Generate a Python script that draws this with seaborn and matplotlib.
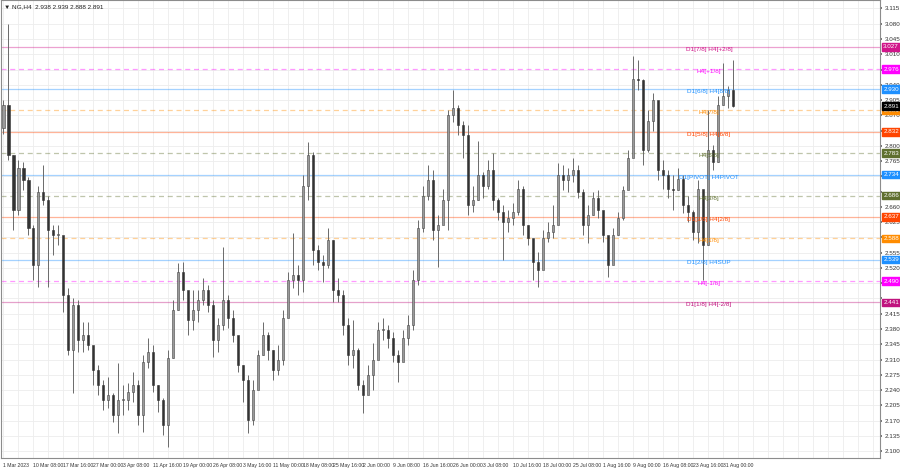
import numpy as np
import pandas as pd
import matplotlib
matplotlib.use("Agg")
import matplotlib.pyplot as plt
import matplotlib.transforms as mtransforms
import seaborn as sns

# ----------------------------------------------------------------------
# Data: NG H4 (one candle per ~5 px column)
# ----------------------------------------------------------------------
first_open = 2.840

high = [2.904, 3.080, 2.778, 2.767, 2.762, 2.728, 2.618, 2.709, 2.755, 2.686,
        2.618, 2.618, 2.583, 2.473, 2.451, 2.446, 2.396, 2.396, 2.332, 2.297,
        2.263, 2.270, 2.233, 2.302, 2.251, 2.256, 2.281, 2.263, 2.320, 2.359,
        2.343, 2.251, 2.221, 2.332, 2.446, 2.531, 2.533, 2.457, 2.469, 2.469,
        2.497, 2.480, 2.446, 2.405, 2.567, 2.457, 2.423, 2.354, 2.297, 2.274,
        2.263, 2.332, 2.396, 2.373, 2.332, 2.343, 2.423, 2.510, 2.599, 2.526,
        2.732, 2.808, 2.785, 2.572, 2.549, 2.611, 2.583, 2.497, 2.469, 2.405,
        2.400, 2.336, 2.263, 2.297, 2.348, 2.396, 2.405, 2.389, 2.373, 2.332,
        2.377, 2.412, 2.515, 2.629, 2.709, 2.755, 2.744, 2.641, 2.702, 2.881,
        2.927, 2.893, 2.858, 2.847, 2.709, 2.812, 2.739, 2.767, 2.783, 2.680,
        2.664, 2.652, 2.670, 2.721, 2.709, 2.618, 2.579, 2.556, 2.606, 2.625,
        2.664, 2.760, 2.755, 2.748, 2.773, 2.755, 2.702, 2.664, 2.693, 2.698,
        2.625, 2.583, 2.611, 2.648, 2.709, 2.790, 3.007, 2.996, 2.954, 2.881,
        2.920, 2.893, 2.767, 2.744, 2.732, 2.748, 2.732, 2.686, 2.652, 2.721,
        2.698, 2.881, 2.801, 2.915, 2.989, 2.938, 2.996]

low = [2.828, 2.767, 2.606, 2.641, 2.698, 2.595, 2.492, 2.476, 2.664, 2.476,
       2.549, 2.572, 2.418, 2.320, 2.233, 2.327, 2.327, 2.332, 2.251, 2.228,
       2.194, 2.199, 2.167, 2.141, 2.183, 2.194, 2.212, 2.160, 2.144, 2.290,
       2.235, 2.190, 2.137, 2.109, 2.313, 2.423, 2.446, 2.366, 2.377, 2.396,
       2.435, 2.418, 2.316, 2.327, 2.377, 2.382, 2.350, 2.281, 2.212, 2.141,
       2.160, 2.251, 2.320, 2.309, 2.263, 2.274, 2.297, 2.412, 2.473, 2.457,
       2.464, 2.675, 2.526, 2.515, 2.487, 2.519, 2.441, 2.441, 2.366, 2.297,
       2.290, 2.240, 2.187, 2.235, 2.240, 2.320, 2.354, 2.336, 2.304, 2.258,
       2.309, 2.343, 2.377, 2.480, 2.602, 2.675, 2.583, 2.522, 2.641, 2.606,
       2.854, 2.824, 2.771, 2.641, 2.648, 2.675, 2.680, 2.702, 2.652, 2.629,
       2.538, 2.602, 2.618, 2.641, 2.595, 2.572, 2.492, 2.476, 2.519, 2.579,
       2.588, 2.636, 2.698, 2.693, 2.716, 2.680, 2.595, 2.577, 2.641, 2.634,
       2.579, 2.499, 2.533, 2.595, 2.629, 2.721, 2.812, 2.927, 2.755, 2.785,
       2.835, 2.721, 2.702, 2.680, 2.652, 2.698, 2.645, 2.625, 2.583, 2.577,
       2.492, 2.572, 2.744, 2.762, 2.893, 2.886, 2.888]

close = [2.893, 2.778, 2.652, 2.748, 2.721, 2.611, 2.526, 2.693, 2.675, 2.606,
         2.595, 2.595, 2.457, 2.332, 2.435, 2.354, 2.366, 2.343, 2.286, 2.251,
         2.217, 2.228, 2.183, 2.217, 2.217, 2.235, 2.251, 2.183, 2.304, 2.327,
         2.251, 2.217, 2.160, 2.313, 2.423, 2.510, 2.469, 2.400, 2.423, 2.446,
         2.469, 2.435, 2.354, 2.389, 2.446, 2.405, 2.366, 2.297, 2.263, 2.171,
         2.240, 2.320, 2.366, 2.332, 2.286, 2.309, 2.405, 2.492, 2.503, 2.492,
         2.709, 2.778, 2.560, 2.533, 2.526, 2.583, 2.469, 2.457, 2.389, 2.320,
         2.332, 2.251, 2.228, 2.274, 2.309, 2.377, 2.377, 2.359, 2.320, 2.304,
         2.359, 2.389, 2.492, 2.611, 2.686, 2.721, 2.606, 2.618, 2.675, 2.870,
         2.886, 2.847, 2.824, 2.664, 2.675, 2.732, 2.709, 2.744, 2.675, 2.648,
         2.625, 2.634, 2.648, 2.702, 2.618, 2.588, 2.533, 2.515, 2.588, 2.602,
         2.618, 2.732, 2.721, 2.732, 2.744, 2.693, 2.618, 2.641, 2.680, 2.652,
         2.595, 2.526, 2.595, 2.634, 2.698, 2.771, 2.954, 2.950, 2.790, 2.858,
         2.904, 2.744, 2.732, 2.702, 2.698, 2.725, 2.664, 2.648, 2.602, 2.702,
         2.572, 2.790, 2.762, 2.893, 2.915, 2.927, 2.891]

date_labels = ["1 Mar 2023", "10 Mar 08:00", "17 Mar 16:00", "27 Mar 00:00",
               "3 Apr 08:00", "11 Apr 16:00", "19 Apr 00:00", "26 Apr 08:00",
               "3 May 16:00", "11 May 00:00", "18 May 08:00", "25 May 16:00",
               "2 Jun 00:00", "9 Jun 08:00", "16 Jun 16:00", "26 Jun 00:00",
               "3 Jul 08:00", "10 Jul 16:00", "18 Jul 00:00", "25 Jul 08:00",
               "1 Aug 16:00", "9 Aug 00:00", "16 Aug 08:00", "23 Aug 16:00",
               "31 Aug 00:00"]

# Murrey-math style levels drawn by the indicator
levels = [3.027, 2.976, 2.930, 2.881, 2.832, 2.783, 2.734,
          2.686, 2.637, 2.588, 2.539, 2.490, 2.441]
level_names = ["D1[7/8] H4[+2/8]", "H4[+1/8]", "D1[6/8] H4[8/8]", "H4[7/8]",
               "D1[5/8] H4[6/8]", "H4[5/8]", "D1[PIVOT] H4PIVOT", "H4[3/8]",
               "D1[3/8] H4[2/8]", "H4[1/8]", "D1[2/8] H4SUP", "H4[-1/8]",
               "D1[1/8] H4[-2/8]"]
level_colors = ["#d1168a", "#ff00ff", "#1e90ff", "#ff8c00", "#ff4500",
                "#5f6f2f", "#1e90ff", "#5f6f2f", "#ff4500", "#ff8c00",
                "#1e90ff", "#ff00ff", "#c0147e"]
level_dashed = [False, True, False, True, False, True, False,
                True, False, True, False, True, False]

last_price = 2.891
price_ticks = [3.115, 3.080, 3.045, 3.010, 2.975, 2.940, 2.905, 2.870, 2.835,
               2.800, 2.765, 2.730, 2.695, 2.660, 2.625, 2.590, 2.555, 2.520,
               2.485, 2.450, 2.415, 2.380, 2.345, 2.310, 2.275, 2.240, 2.205,
               2.170, 2.135, 2.100]

# ----------------------------------------------------------------------
df = pd.DataFrame({"high": high, "low": low, "close": close})
df["open"] = np.r_[first_open, df["close"].values[:-1]]
df["x"] = np.arange(len(df))
df["bull"] = df["close"] >= df["open"]

sns.set_theme(style="white")
plt.rcParams["font.family"] = ["Liberation Sans", "DejaVu Sans"]

fig = plt.figure(figsize=(9, 4.68), dpi=100)
ax = fig.add_axes([0.001, 0.0214, 0.977, 0.9776])

n_cols = 176
ax.set_xlim(-0.5, n_cols - 0.5)
ax.set_ylim(2.0842, 3.1333)

# light grid
for gx in np.arange(0, n_cols, 3):
    ax.axvline(gx, color="#ededed", lw=0.6, zorder=0)
for gy in price_ticks:
    ax.axhline(gy, color="#ededed", lw=0.6, zorder=0)

# level lines
for lv, col, dashed in zip(levels, level_colors, level_dashed):
    ax.axhline(lv, color=col, lw=0.9, alpha=0.4,
               ls=(0, (4, 3)) if dashed else "-", zorder=1)

# candles
ax.vlines(df["x"], df["low"], df["high"], color="#6a6a6a", lw=0.7, zorder=2)
body_lo = df[["open", "close"]].min(axis=1)
body_h = (df["close"] - df["open"]).abs().clip(lower=0.002)
ax.bar(df["x"][df["bull"]], body_h[df["bull"]], bottom=body_lo[df["bull"]],
       width=0.45, color="#9a9a9a", edgecolor="#454545", lw=0.4, zorder=3)
ax.bar(df["x"][~df["bull"]], body_h[~df["bull"]], bottom=body_lo[~df["bull"]],
       width=0.45, color="#333333", edgecolor="#333333", lw=0.4, zorder=3)

# level names near the right end of the price
for lv, name, col in zip(levels, level_names, level_colors):
    ax.annotate(name, (141.2, lv), xytext=(0, -2.5), textcoords="offset pixels",
                ha="center", va="center", fontsize=4.6, color=col, zorder=4)

# price axis on the right; labels hidden where a price tag sits on top
tag_prices = levels + [last_price]
shown = [f"{t:.3f}" if min(abs(t - p) for p in tag_prices) > 0.0095 else ""
         for t in price_ticks]
ax.yaxis.tick_right()
ax.set_yticks(price_ticks)
ax.set_yticklabels(shown, fontsize=4.5, color="#333333")
ax.tick_params(axis="y", length=1.5, pad=1.5, color="#666666")

# coloured price tags on the axis
tag_tr = mtransforms.blended_transform_factory(ax.transAxes, ax.transData)
tags = list(zip(levels, level_colors)) + [(last_price, "#000000")]
for lv, col in tags:
    ax.annotate(f"{lv:.3f}", (1.0, lv), xycoords=tag_tr, xytext=(3, 0),
                textcoords="offset pixels", ha="left", va="center",
                fontsize=4.5, color="white", annotation_clip=False, zorder=6,
                bbox=dict(boxstyle="square,pad=0.2", fc=col, ec=col))

# time axis
ax.set_xticks(np.arange(0, len(date_labels) * 6, 6))
ax.set_xticklabels(date_labels, fontsize=3.7, color="#333333", ha="left")
ax.tick_params(axis="x", length=2, pad=1.5, color="#666666")

for s in ax.spines.values():
    s.set_color("#8c8c8c")
    s.set_linewidth(0.8)

ax.text(0.004, 0.992, "\u25bc NG,H4  2.938 2.939 2.888 2.891", transform=ax.transAxes,
        fontsize=4.6, color="#222222", va="top", ha="left")

fig.savefig("out.png", dpi=100)
